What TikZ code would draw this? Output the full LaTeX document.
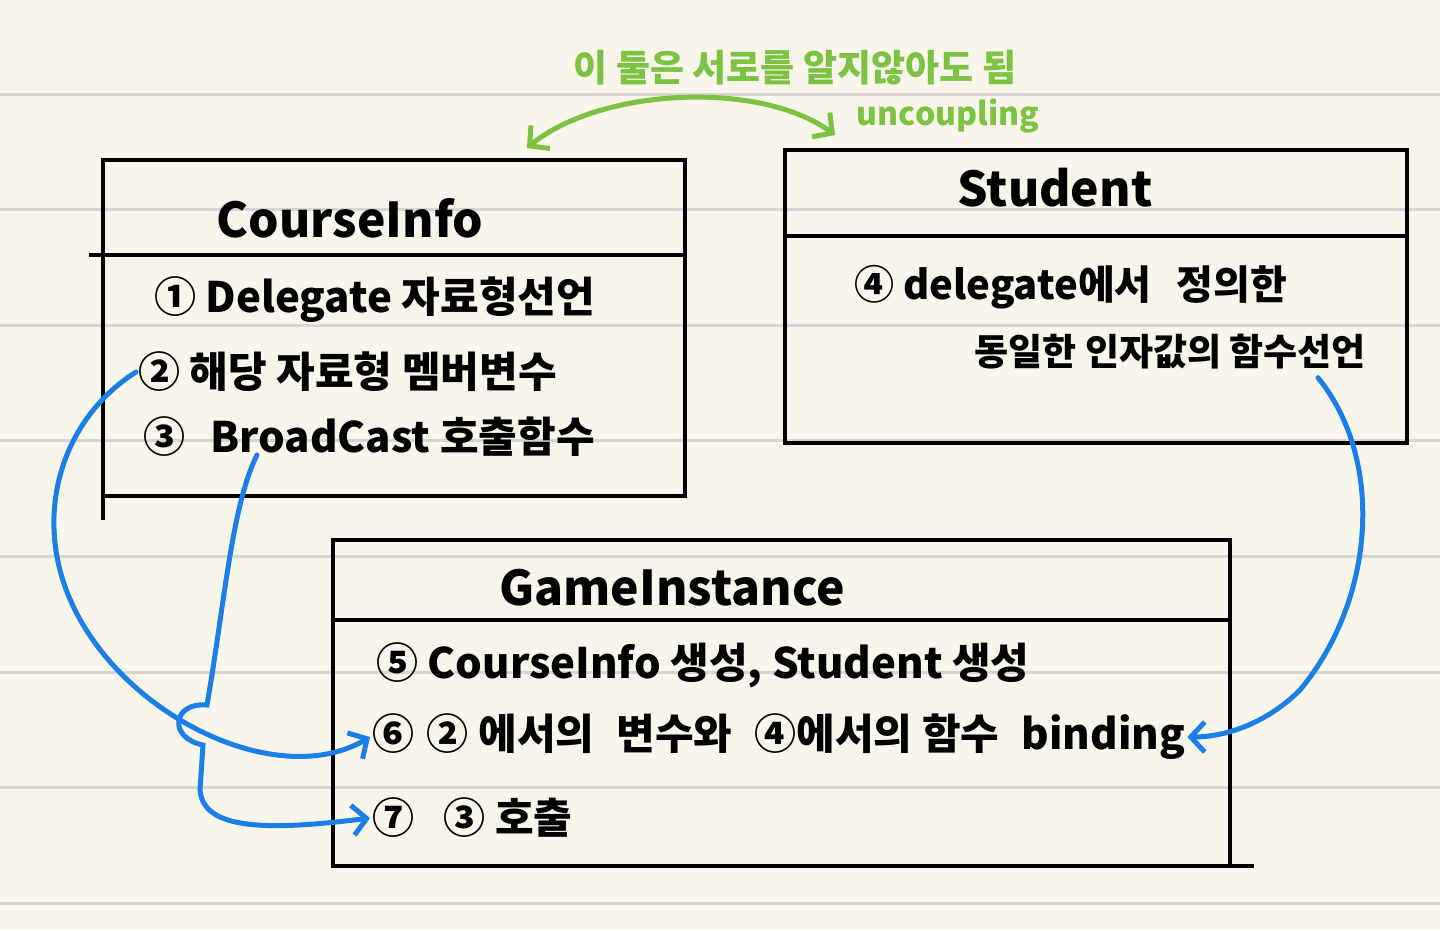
\documentclass[tikz,border=0pt]{standalone}
\usepackage{fontspec}
\setmainfont{Noto Sans CJK KR}
\usepackage{tikz}
\usetikzlibrary{arrows.meta,positioning}
\definecolor{PaperCream}{HTML}{F8F6EA}
\definecolor{RuleGray}{HTML}{D5D5D3}
\definecolor{InkBlue}{HTML}{1A7FE6}
\definecolor{InkGreen}{HTML}{7CC243}

\begin{document}
\begin{tikzpicture}[x=1pt,y=-1pt,
    ink/.style={draw=black, line width=3.5pt, inner sep=0pt, outer sep=0pt},
    titlebox/.style 2 args={ink, minimum width=#1, minimum height=#2, anchor=north west},
    bodybox/.style 2 args={ink, minimum width=#1, minimum height=#2},
    titletext/.style={font=\fontsize{48}{52}\selectfont\bfseries, inner sep=0pt},
    item/.style={anchor=west, font=\fontsize{42}{48}\selectfont\bfseries, inner sep=2pt},
    note/.style={text=InkGreen, font=\fontsize{37}{42}\selectfont\bfseries, inner sep=0pt},
    barb/.tip={Straight Barb[length=14pt,width=30pt,line width=5pt]},
    link/.style={draw=InkBlue, line width=5pt, line cap=round, -barb},
    mutual/.style={draw=InkGreen, line width=5pt, line cap=round, barb-barb}
  ]
    % paper
    \useasboundingbox (0,0) rectangle (1440,930);
    \fill[PaperCream] (0,0) rectangle (1440,930);
    \foreach \k in {0,...,7}
      \draw[RuleGray, line width=3pt] (0,94+115.6*\k) -- (1440,94+115.6*\k);

    % CourseInfo
    \node[titlebox={582pt}{95pt}] (cititle) at (103,160) {};
    \node[bodybox={582pt}{241pt}, below=0pt of cititle] (cibody) {};
    \node[titletext] (ciname) at (350,218) {CourseInfo};
    \node[item] (ci1) at (152,300) {① Delegate 자료형선언};
    \node[item] (ci2) at (136,372) {② 해당 자료형 멤버변수};
    \node[item] (ci3) at (141,437) {③\hspace{0.6em}BroadCast 호출함수};
    \draw[ink] (cibody.north west) -- ++(-14,0);
    \draw[ink] (cibody.south west) -- ++(0,24);

    % Student
    \node[titlebox={622pt}{86pt}] (sdtitle) at (785,150) {};
    \node[bodybox={622pt}{207pt}, below=0pt of sdtitle] (sdbody) {};
    \node[titletext] (sdname) at (1055,188) {Student};
    \node[item, font=\fontsize{40}{46}\selectfont\bfseries] (sd1) at (852,287) {④ delegate에서\hspace{0.4em} 정의한};
    \node[item, anchor=east, font=\fontsize{37}{42}\selectfont\bfseries] (sd2) at (1368,352) {동일한 인자값의 함수선언};

    % GameInstance
    \node[titlebox={897pt}{80pt}] (gititle) at (333,540) {};
    \node[bodybox={897pt}{246pt}, below=0pt of gititle] (gibody) {};
    \node[titletext] (giname) at (672,588) {GameInstance};
    \node[item] (gi5) at (374,665) {⑤ CourseInfo 생성, Student 생성};
    \node[item] (gi6) at (370,737) {⑥\hspace{0.3em}② 에서의\hspace{0.3em} 변수와\hspace{0.3em} ④에서의 함수\hspace{0.3em} binding};
    \node[item] (gi7) at (370,818) {⑦\hspace{0.7em}③ 호출};
    \draw[ink] (gibody.south east) -- ++(24,0);

    % uncoupling
    \draw[mutual] ([xshift=-158pt,yshift=12pt]cititle.north east)
      .. controls (600,88) and (760,80) .. ([xshift=50pt,yshift=15pt]sdtitle.north west);
    \node[note] (uncnote) at (795,68) {이 둘은 서로를 알지않아도 됨};
    \node[note, font=\fontsize{32}{36}\selectfont\bfseries] (uncword) at (948,116) {uncoupling};

    % bindings
    \draw[link] (ci2.west) .. controls (60,420) and (30,520) .. (75,610)
      .. controls (130,720) and (280,790) .. (gi6.west);
    \draw[link] ([xshift=116pt,yshift=-18pt]ci3.west) .. controls (232,505) and (225,600) .. (207,705)
      .. controls (172,702) and (168,738) .. (203,745) -- (200,790)
      .. controls (203,828) and (260,832) .. (gi7.west);
    \draw[link] ([xshift=-50pt,yshift=-6pt]sd2.south east) .. controls (1385,460) and (1375,600) .. (1300,690)
      .. controls (1270,720) and (1230,737) .. (gi6.east);
  \end{tikzpicture}
\end{document}
